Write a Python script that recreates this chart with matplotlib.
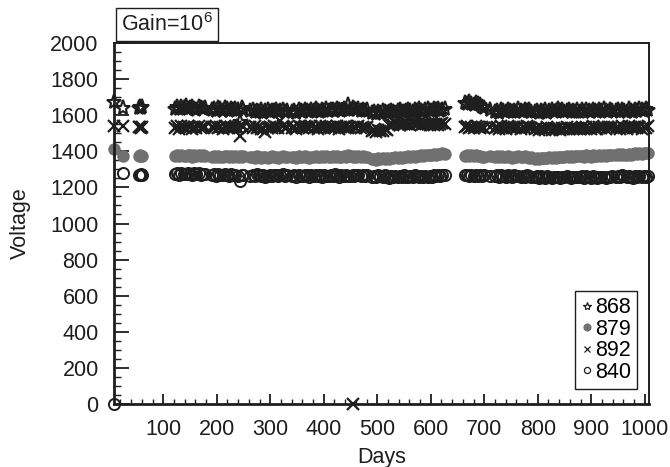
import matplotlib
matplotlib.use('Agg')
import matplotlib.pyplot as plt
from matplotlib.ticker import MultipleLocator, FixedLocator

plt.rcParams['font.family'] = ['Liberation Sans', 'DejaVu Sans']
plt.rcParams['mathtext.fontset'] = 'custom'
plt.rcParams['mathtext.rm'] = 'Liberation Sans'
plt.rcParams['mathtext.it'] = 'Liberation Sans'

# ---------------- data (days shared by all PMTs) ----------------
days = (
    [8, 25, 55, 57, 59, 61]
    + [122, 126, 130, 134, 138, 142, 146, 150, 154, 158, 162, 166, 170, 174, 178]
    + [191, 195, 199, 203, 207, 211, 215, 219, 223, 227, 231, 235, 239, 243, 247, 250]
    + [263, 267, 271, 275, 279, 283, 287, 291, 295, 299, 303, 307, 311, 315, 319, 323, 327, 331]
    + [341, 345, 349, 353, 357, 361, 365, 369, 373, 377, 381, 385, 389, 393, 397, 401, 405, 409,
       413, 417, 421, 425, 429, 433, 437, 441, 445, 449, 455, 457, 461, 465, 469, 473, 477, 481]
    + [490, 494, 498, 502, 506, 510, 514, 518, 522, 526, 530, 534, 538, 542, 546, 550, 554, 558,
       562, 566, 570, 574, 578, 582, 586, 590, 594, 598, 602, 606, 610, 614, 618, 622, 626]
    + [664, 668, 672, 676, 680, 684, 688, 692, 696, 700, 711]
    + [720, 724, 728, 732, 736, 740, 744, 748, 752, 756, 760, 764, 768, 772, 776, 780, 784, 788]
    + [794, 798, 802, 806, 810, 814, 818, 822, 826, 830, 834, 838, 842, 846, 850, 854, 858, 862,
       866, 870, 874]
    + [879, 883, 887, 891, 895, 899, 903, 907, 911, 915, 919, 923, 927, 931, 935, 939]
    + [946, 950, 954, 958, 962, 966, 970, 974, 978, 982, 986, 990, 994, 998, 1002, 1006]
)

v868 = (
    [1672, 1641, 1641, 1645, 1638, 1643]
    + [1636, 1644, 1632, 1646, 1638, 1650, 1634, 1642, 1645, 1637, 1631, 1644, 1640, 1635, 1641]
    + [1628, 1636, 1624, 1640, 1632, 1626, 1638, 1633, 1622, 1637, 1629, 1635, 1627, 1565, 1641, 1630]
    + [1622, 1628, 1615, 1626, 1619, 1631, 1613, 1624, 1628, 1618, 1625, 1621, 1629, 1615, 1623, 1631, 1619, 1625]
    + [1618, 1625, 1613, 1628, 1621, 1615, 1631, 1623, 1618, 1627, 1621, 1633, 1625, 1617, 1629, 1623, 1635, 1621,
       1627, 1631, 1623, 1637, 1629, 1625, 1633, 1628, 1655, 1631, 1640, 1635, 1629, 1633, 1625, 1631, 1621, 1627]
    + [1612, 1618, 1608, 1620, 1614, 1622, 1616, 1610, 1620, 1625, 1618, 1614, 1623, 1628, 1620, 1616, 1626, 1630,
       1622, 1618, 1628, 1624, 1632, 1626, 1620, 1630, 1634, 1626, 1622, 1632, 1628, 1636, 1624, 1630, 1634]
    + [1668, 1660, 1672, 1664, 1658, 1666, 1661, 1655, 1645, 1638, 1628]
    + [1618, 1625, 1614, 1628, 1621, 1616, 1630, 1622, 1617, 1626, 1620, 1632, 1624, 1615, 1627, 1621, 1629, 1619]
    + [1616, 1623, 1612, 1626, 1619, 1628, 1614, 1622, 1630, 1618, 1625, 1633, 1621, 1627, 1616, 1624, 1629, 1620,
       1626, 1618, 1631]
    + [1620, 1627, 1616, 1629, 1622, 1618, 1631, 1624, 1619, 1628, 1622, 1634, 1626, 1617, 1629, 1623]
    + [1621, 1628, 1617, 1630, 1624, 1619, 1633, 1626, 1620, 1630, 1624, 1636, 1628, 1622, 1632, 1627]
)

v879 = (
    [1414, 1372, 1374, 1378, 1372, 1376]
    + [1375, 1379, 1372, 1381, 1376, 1373, 1380, 1377, 1371, 1378, 1374, 1380, 1373, 1377, 1375]
    + [1370, 1374, 1368, 1376, 1371, 1369, 1375, 1372, 1367, 1374, 1370, 1376, 1368, 1373, 1371, 1375]
    + [1366, 1370, 1364, 1372, 1368, 1365, 1371, 1367, 1363, 1369, 1372, 1366, 1370, 1364, 1368, 1373, 1367, 1370]
    + [1367, 1371, 1364, 1373, 1368, 1366, 1372, 1369, 1365, 1371, 1367, 1374, 1369, 1366, 1372, 1368, 1375, 1370,
       1367, 1373, 1369, 1376, 1371, 1368, 1374, 1370, 1377, 1372, 1369, 1375, 1371, 1374, 1368, 1372, 1366, 1370]
    + [1356, 1360, 1354, 1362, 1358, 1361, 1357, 1363, 1360, 1365, 1362, 1366, 1363, 1368, 1365, 1370, 1367, 1372,
       1369, 1374, 1371, 1376, 1373, 1378, 1375, 1380, 1377, 1382, 1379, 1384, 1381, 1386, 1383, 1390, 1385]
    + [1374, 1378, 1372, 1377, 1375, 1380, 1373, 1376, 1371, 1370, 1372]
    + [1368, 1372, 1366, 1374, 1370, 1367, 1373, 1369, 1365, 1371, 1368, 1374, 1370, 1366, 1372, 1369, 1364, 1366]
    + [1360, 1363, 1358, 1365, 1361, 1364, 1362, 1366, 1363, 1368, 1365, 1369, 1367, 1371, 1368, 1372, 1370, 1374,
       1371, 1375, 1373]
    + [1372, 1376, 1370, 1378, 1374, 1371, 1377, 1373, 1375, 1379, 1374, 1378, 1376, 1380, 1377, 1381]
    + [1380, 1384, 1378, 1386, 1382, 1379, 1385, 1381, 1383, 1388, 1384, 1390, 1386, 1392, 1388, 1390]
)

v892 = (
    [1538, 1540, 1533, 1536, 1530, 1535]
    + [1530, 1538, 1526, 1541, 1533, 1528, 1540, 1535, 1524, 1537, 1531, 1539, 1527, 1534, 1536]
    + [1532, 1527, 1539, 1530, 1536, 1525, 1540, 1533, 1528, 1537, 1531, 1535, 1529, 1485, 1548, 1534]
    + [1534, 1528, 1540, 1531, 1537, 1526, 1522, 1508, 1530, 1536, 1528, 1541, 1533, 1527, 1570, 1538, 1530, 1535]
    + [1530, 1537, 1525, 1539, 1532, 1528, 1541, 1534, 1527, 1538, 1531, 1536, 1524, 1540, 1533, 1529, 1542, 1535,
       1528, 1537, 1531, 1539, 1526, 1535, 1532, 1538, 1529, 1536, 0, 1533, 1527, 1538, 1531, 1536, 1528, 1534]
    + [1512, 1518, 1508, 1520, 1514, 1510, 1522, 1516, 1545, 1552, 1548, 1556, 1550, 1544, 1554, 1549, 1557, 1551,
       1546, 1555, 1549, 1553, 1558, 1547, 1552, 1556, 1550, 1545, 1554, 1548, 1552, 1546, 1550, 1555, 1549]
    + [1532, 1538, 1528, 1536, 1530, 1540, 1534, 1527, 1535, 1531, 1535]
    + [1528, 1535, 1524, 1538, 1531, 1526, 1540, 1533, 1527, 1536, 1530, 1537, 1525, 1534, 1529, 1538, 1532, 1527]
    + [1522, 1528, 1516, 1530, 1524, 1519, 1532, 1526, 1518, 1529, 1523, 1531, 1520, 1527, 1525, 1533, 1521, 1528,
       1524, 1530, 1526]
    + [1526, 1533, 1522, 1536, 1529, 1524, 1538, 1531, 1525, 1534, 1528, 1535, 1523, 1532, 1527, 1536]
    + [1528, 1535, 1524, 1538, 1531, 1526, 1540, 1533, 1527, 1536, 1530, 1537, 1525, 1534, 1531, 1538]
)

v840 = (
    [0, 1281, 1270, 1268, 1272, 1266]
    + [1274, 1279, 1270, 1282, 1276, 1272, 1281, 1277, 1269, 1280, 1275, 1278, 1271, 1277, 1274]
    + [1268, 1273, 1264, 1276, 1270, 1266, 1274, 1269, 1263, 1272, 1267, 1271, 1265, 1235, 1270, 1268]
    + [1264, 1270, 1261, 1272, 1266, 1262, 1268, 1258, 1265, 1270, 1263, 1271, 1266, 1262, 1269, 1273, 1265, 1268]
    + [1263, 1268, 1260, 1271, 1265, 1261, 1270, 1266, 1259, 1269, 1264, 1271, 1262, 1267, 1260, 1270, 1265, 1261,
       1269, 1264, 1272, 1266, 1260, 1268, 1263, 1270, 1265, 1262, 1269, 1264, 1271, 1266, 1261, 1268, 1263, 1267]
    + [1258, 1264, 1255, 1267, 1261, 1257, 1266, 1260, 1254, 1265, 1259, 1263, 1256, 1262, 1258, 1266, 1260, 1255,
       1264, 1259, 1267, 1261, 1256, 1265, 1260, 1263, 1257, 1264, 1259, 1266, 1262, 1268, 1264, 1269, 1266]
    + [1266, 1271, 1262, 1269, 1265, 1268, 1263, 1270, 1264, 1267, 1264]
    + [1262, 1267, 1258, 1270, 1264, 1260, 1268, 1263, 1257, 1266, 1261, 1265, 1259, 1264, 1260, 1267, 1262, 1258]
    + [1256, 1261, 1252, 1263, 1258, 1254, 1262, 1257, 1251, 1260, 1255, 1259, 1253, 1258, 1256, 1262, 1257, 1253,
       1260, 1255, 1259]
    + [1256, 1261, 1253, 1263, 1258, 1254, 1262, 1257, 1252, 1260, 1255, 1259, 1254, 1258, 1256, 1261]
    + [1258, 1264, 1255, 1266, 1261, 1257, 1265, 1260, 1254, 1263, 1258, 1262, 1256, 1261, 1259, 1264]
)

labels = ['868', '879', '892', '840']
x_ticks = [100, 200, 300, 400, 500, 600, 700, 800, 900, 1000]
y_ticks = [0, 200, 400, 600, 800, 1000, 1200, 1400, 1600, 1800, 2000]

# ---------------- figure ----------------
FS = 15.5
INK = '#1e1e1e'
fig = plt.figure(figsize=(6.7, 4.67), dpi=100)
ax = fig.add_axes([114 / 670, 1 - 404 / 467, 535 / 670, 361 / 467])

ax.plot(days, v868, ls='none', marker='*', ms=11, mfc='none', mec=INK, mew=1.5,
        clip_on=False, label=labels[0])
ax.plot(days, v879, ls='none', marker='o', ms=9, mfc='#707070', mec='#707070', mew=0,
        clip_on=False, label=labels[1])
ax.plot(days, v892, ls='none', marker='x', ms=8, mec=INK, mew=1.6,
        clip_on=False, label=labels[2])
ax.plot(days, v840, ls='none', marker='o', ms=8, mfc='none', mec=INK, mew=1.4,
        clip_on=False, label=labels[3])

ax.set_xlim(8, 1008)
ax.set_ylim(0, 2000)
ax.xaxis.set_major_locator(FixedLocator(x_ticks))
ax.xaxis.set_minor_locator(MultipleLocator(20))
ax.yaxis.set_major_locator(FixedLocator(y_ticks))
ax.yaxis.set_minor_locator(MultipleLocator(50))

ax.tick_params(axis='both', which='both', direction='in', top=False, right=False,
               labelsize=FS, colors=INK)
ax.tick_params(axis='y', which='major', length=11, width=1.3, pad=11)
ax.tick_params(axis='y', which='minor', length=5, width=1.0)
ax.tick_params(axis='x', which='major', length=7, width=1.3, pad=11)
ax.tick_params(axis='x', which='minor', length=3.5, width=1.0)

for s in ['left', 'bottom']:
    ax.spines[s].set_linewidth(2.0)
for s in ['top', 'right']:
    ax.spines[s].set_linewidth(1.4)
for s in ax.spines.values():
    s.set_color(INK)

ax.set_xlabel('Days', fontsize=FS, color=INK)
ax.set_ylabel('Voltage', fontsize=FS, color=INK)
ax.xaxis.set_label_coords(0.5, -0.118)
ax.yaxis.set_label_coords(-0.155, 0.5)

leg = ax.legend(loc='lower right', bbox_to_anchor=(0.978, 0.0416), borderaxespad=0,
                fontsize=FS, markerscale=0.55, handlelength=0.5, handletextpad=0.12,
                labelspacing=0.02, borderpad=0.3, fancybox=False, framealpha=1,
                edgecolor=INK)
leg.get_frame().set_linewidth(1.0)
for h in leg.legend_handles:
    h.set_markeredgewidth(0.9)

fig.text(121 / 670, 1 - 31 / 467, 'Gain=10$^{\\mathrm{6}}$', fontsize=FS, color=INK,
         ha='left', va='baseline',
         bbox=dict(boxstyle='square,pad=0.25', fc='white', ec=INK, lw=1.0))

fig.savefig('out.png', dpi=100)
